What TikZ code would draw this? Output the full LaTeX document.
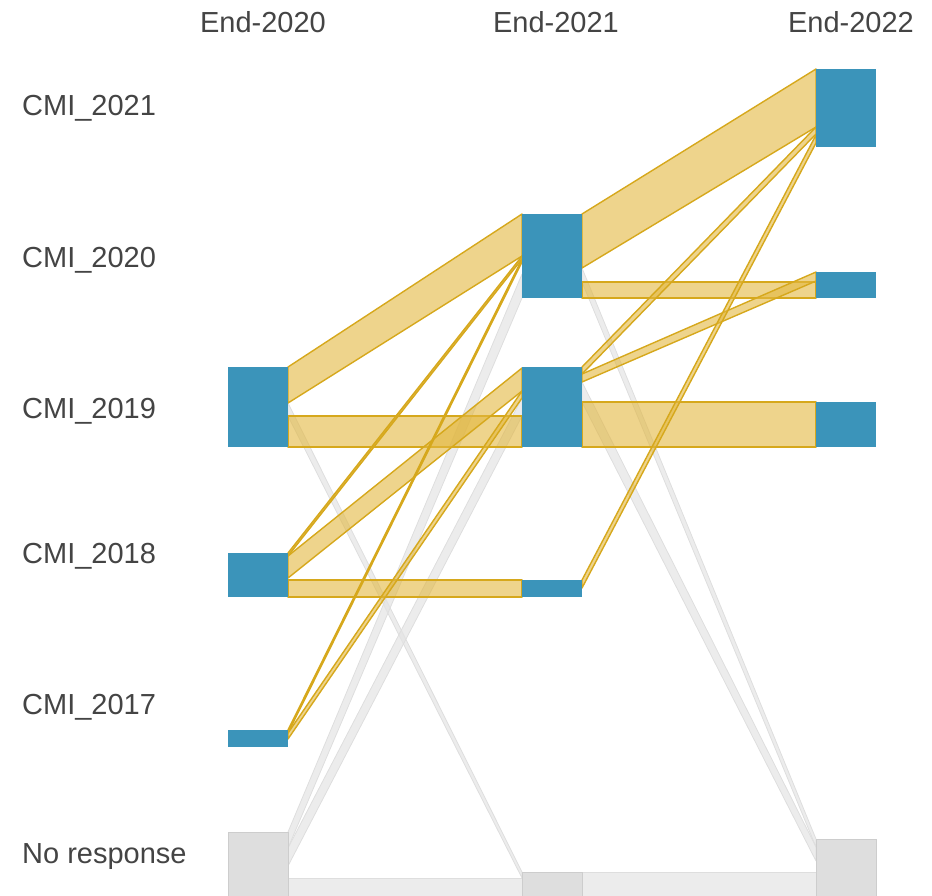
\documentclass[tikz,border=0pt]{standalone}
\usepackage{fontspec}
\setmainfont{Liberation Sans}
\usetikzlibrary{backgrounds}
\definecolor{cmiblue}{RGB}{59,148,186}
\definecolor{nrgray}{RGB}{222,222,222}
\definecolor{nredge}{RGB}{205,205,205}
\definecolor{flowgold}{RGB}{226,183,63}
\definecolor{goldedge}{RGB}{214,168,28}
\definecolor{flowgray}{RGB}{228,228,228}
\definecolor{grayedge}{RGB}{222,222,222}
\definecolor{labelgray}{RGB}{68,68,68}
\tikzset{
  cmibox/.style={rectangle, fill=cmiblue, inner sep=0pt, outer sep=0pt, minimum width=60pt, anchor=north west},
  nrbox/.style={rectangle, fill=nrgray, draw=nredge, line width=1pt, inner sep=0pt, outer sep=0pt, minimum width=60pt, anchor=north west},
  goldflow/.style={fill=flowgold, fill opacity=0.6, draw=goldedge, line width=1.4pt, line join=round},
  grayflow/.style={fill=flowgray, fill opacity=0.7, draw=grayedge, line width=0.8pt, line join=round},
  rowlabel/.style={inner sep=0pt, anchor=base west, text=labelgray, font=\fontsize{29}{34}\selectfont},
  collabel/.style={inner sep=0pt, anchor=base, text=labelgray, font=\fontsize{29}{34}\selectfont}
}

\begin{document}
\begin{tikzpicture}[x=1pt, y=-1pt]
\useasboundingbox (0,0) rectangle (932,895);
\clip (0,0) rectangle (932,895);

% column and row labels
\node[collabel] (h20) at (263,32) {End-2020};
\node[collabel] (h21) at (556,32) {End-2021};
\node[collabel] (h22) at (851,32) {End-2022};

\node[rowlabel] (l21) at (22,115) {CMI\_2021};
\node[rowlabel] (l20) at (22,267) {CMI\_2020};
\node[rowlabel] (l19) at (22,418) {CMI\_2019};
\node[rowlabel] (l18) at (22,563) {CMI\_2018};
\node[rowlabel] (l17) at (22,714) {CMI\_2017};
\node[rowlabel] (lnr) at (22,863) {No response};

% nodes, end-2020
\node[cmibox, minimum height=80pt] (a19) at (228,367) {};
\node[cmibox, minimum height=44pt] (a18) at (228,553) {};
\node[cmibox, minimum height=17pt] (a17) at (228,730) {};
\node[nrbox, minimum height=90pt] (anr) at (228,832) {};

% nodes, end-2021
\node[cmibox, minimum height=84pt] (b20) at (522,214) {};
\node[cmibox, minimum height=80pt] (b19) at (522,367) {};
\node[cmibox, minimum height=17pt] (b18) at (522,580) {};
\node[nrbox, minimum height=50pt] (bnr) at (522,872) {};

% nodes, end-2022
\node[cmibox, minimum height=78pt] (c21) at (816,69) {};
\node[cmibox, minimum height=26pt] (c20) at (816,272) {};
\node[cmibox, minimum height=45pt] (c19) at (816,402) {};
\node[nrbox, minimum height=80pt] (cnr) at (816,839) {};

\begin{pgfonlayer}{background}
% grey flows
\filldraw[grayflow] ([yshift=-36pt]a19.north east) -- (bnr.north west) -- ([yshift=-6pt]bnr.north west) -- ([yshift=-49pt]a19.north east) -- cycle;
\filldraw[grayflow] (anr.north east) -- ([yshift=-60pt]b20.north west) -- (b20.south west) -- ([yshift=-16pt]anr.north east) -- cycle;
\filldraw[grayflow] ([yshift=-16pt]anr.north east) -- ([yshift=-31pt]b19.north west) -- ([yshift=-49pt]b19.north west) -- ([yshift=-34pt]anr.north east) -- cycle;
\filldraw[grayflow] ([yshift=-46pt]anr.north east) -- ([yshift=-6pt]bnr.north west) -- ([yshift=-30pt]bnr.north west) -- ([yshift=-70pt]anr.north east) -- cycle;
\filldraw[grayflow] ([yshift=-54pt]b20.north east) -- (cnr.north west) -- ([yshift=-8pt]cnr.north west) -- ([yshift=-68pt]b20.north east) -- cycle;
\filldraw[grayflow] ([yshift=-15pt]b19.north east) -- ([yshift=-8pt]cnr.north west) -- ([yshift=-22pt]cnr.north west) -- ([yshift=-35pt]b19.north east) -- cycle;
\filldraw[grayflow] (bnr.north east) -- ([yshift=-33pt]cnr.north west) -- ([yshift=-63pt]cnr.north west) -- ([yshift=-30pt]bnr.north east) -- cycle;

% gold flows, end-2020 to end-2021
\filldraw[goldflow] (a19.north east) -- (b20.north west) -- ([yshift=-42pt]b20.north west) -- ([yshift=-36pt]a19.north east) -- cycle;
\filldraw[goldflow] ([yshift=-49pt]a19.north east) -- ([yshift=-49pt]b19.north west) -- (b19.south west) -- (a19.south east) -- cycle;
\filldraw[goldflow] (a18.north east) -- ([yshift=-42pt]b20.north west) -- ([yshift=-45pt]b20.north west) -- ([yshift=-3pt]a18.north east) -- cycle;
\filldraw[goldflow] ([yshift=-3pt]a18.north east) -- ([yshift=-1pt]b19.north west) -- ([yshift=-24pt]b19.north west) -- ([yshift=-25pt]a18.north east) -- cycle;
\filldraw[goldflow] ([yshift=-27pt]a18.north east) -- (b18.north west) -- (b18.south west) -- (a18.south east) -- cycle;
\filldraw[goldflow] (a17.north east) -- ([yshift=-45pt]b20.north west) -- ([yshift=-48pt]b20.north west) -- ([yshift=-3pt]a17.north east) -- cycle;
\filldraw[goldflow] ([yshift=-3pt]a17.north east) -- ([yshift=-24pt]b19.north west) -- ([yshift=-31pt]b19.north west) -- ([yshift=-9pt]a17.north east) -- cycle;

% gold flows, end-2021 to end-2022
\filldraw[goldflow] (b20.north east) -- (c21.north west) -- ([yshift=-58pt]c21.north west) -- ([yshift=-54pt]b20.north east) -- cycle;
\filldraw[goldflow] ([yshift=-68pt]b20.north east) -- ([yshift=-10pt]c20.north west) -- (c20.south west) -- (b20.south east) -- cycle;
\filldraw[goldflow] (b19.north east) -- ([yshift=-58pt]c21.north west) -- ([yshift=-65pt]c21.north west) -- ([yshift=-7pt]b19.north east) -- cycle;
\filldraw[goldflow] ([yshift=-7pt]b19.north east) -- (c20.north west) -- ([yshift=-9pt]c20.north west) -- ([yshift=-15pt]b19.north east) -- cycle;
\filldraw[goldflow] ([yshift=-35pt]b19.north east) -- (c19.north west) -- (c19.south west) -- (b19.south east) -- cycle;
\filldraw[goldflow] (b18.north east) -- ([yshift=-66pt]c21.north west) -- ([yshift=-74pt]c21.north west) -- ([yshift=-8pt]b18.north east) -- cycle;
\end{pgfonlayer}

\end{tikzpicture}
\end{document}
